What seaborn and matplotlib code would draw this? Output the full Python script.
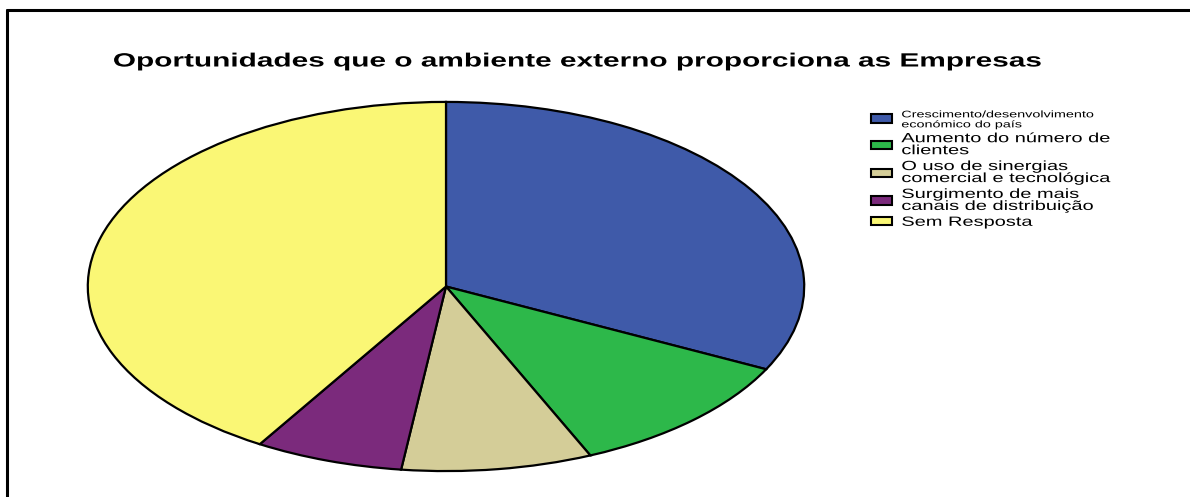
import matplotlib
matplotlib.use("Agg")
import matplotlib.pyplot as plt
from matplotlib.patches import Rectangle
from matplotlib.lines import Line2D
from matplotlib.transforms import Affine2D
import matplotlib.patheffects as pe
import seaborn as sns

categories = [
    "Crescimento/desenvolvimento\neconómico do país",
    "Aumento do número de\nclientes",
    "O uso de sinergias\ncomercial e tecnológica",
    "Surgimento de mais\ncanais de distribuição",
    "Sem Resposta",
]
percentages = [32.4, 11.0, 8.6, 6.7, 41.3]
colors = ["#3F5AA9", "#2DB84A", "#D4CD98", "#7B2A7C", "#FAF775"]
title = "Oportunidades que o ambiente externo proporciona as Empresas"


class WideText(pe.AbstractPathEffect):
    """Draw glyph outlines widened horizontally (expanded lettering)."""

    def __init__(self, sx, centered=False):
        super().__init__()
        self.sx = sx
        self.centered = centered

    def draw_path(self, renderer, gc, tpath, affine, rgbFace=None):
        cx = 0.0
        if self.centered:
            ext = tpath.get_extents()
            cx = (ext.x0 + ext.x1) / 2
        widen = Affine2D().translate(-cx, 0).scale(self.sx, 1).translate(cx, 0)
        renderer.draw_path(gc, tpath, widen + affine, rgbFace)


sns.set_theme(style="white")
plt.rcParams["font.family"] = ["Liberation Sans", "DejaVu Sans"]
plt.rcParams["text.color"] = "black"

W, H = 1190, 497
fig = plt.figure(figsize=(W / 100, H / 100), dpi=100)
fig.patch.set_facecolor("white")

# frame lines along the top and left edges
fig.add_artist(Line2D([7 / W, 7 / W], [0, 1 - 9.5 / H], color="black", lw=2.2,
                      transform=fig.transFigure))
fig.add_artist(Line2D([7 / W, 1], [1 - 9.5 / H, 1 - 9.5 / H], color="black", lw=2.2,
                      transform=fig.transFigure))

# elliptical pie: stretched axes with free aspect
left, right, top, bottom = 86, 806, 101, 472
ax = fig.add_axes([left / W, 1 - bottom / H, (right - left) / W, (bottom - top) / H])
wedges, _ = ax.pie(percentages, colors=colors, startangle=90, counterclock=False,
                   wedgeprops=dict(edgecolor="black", linewidth=1.6))
ax.set_aspect("auto")
ax.set_xlim(-1.005, 1.005)
ax.set_ylim(-1.005, 1.005)
ax.axis("off")

fig.text(576.5 / W, 1 - 62 / H, title, ha="center", va="center",
         fontsize=13.8, fontweight="bold", color="black",
         path_effects=[WideText(1.555, centered=True)])

handles = [Rectangle((0, 0), 1, 1, facecolor=c, edgecolor="black", linewidth=1.5)
           for c in colors]
leg = fig.legend(handles, categories, loc="upper left",
                 bbox_to_anchor=(866 / W, 1 - 104 / H), frameon=False,
                 fontsize=9.6, handlelength=1.55, handleheight=0.6,
                 handletextpad=0.7, labelspacing=0.29, borderaxespad=0)
texts = leg.get_texts()
texts[0].set_fontsize(6.9)
for t in texts:
    t.set_linespacing(1.0)
    t.set_color("black")
    t.set_path_effects([WideText(1.5)])

fig.savefig("out.png", dpi=100, facecolor="white")
